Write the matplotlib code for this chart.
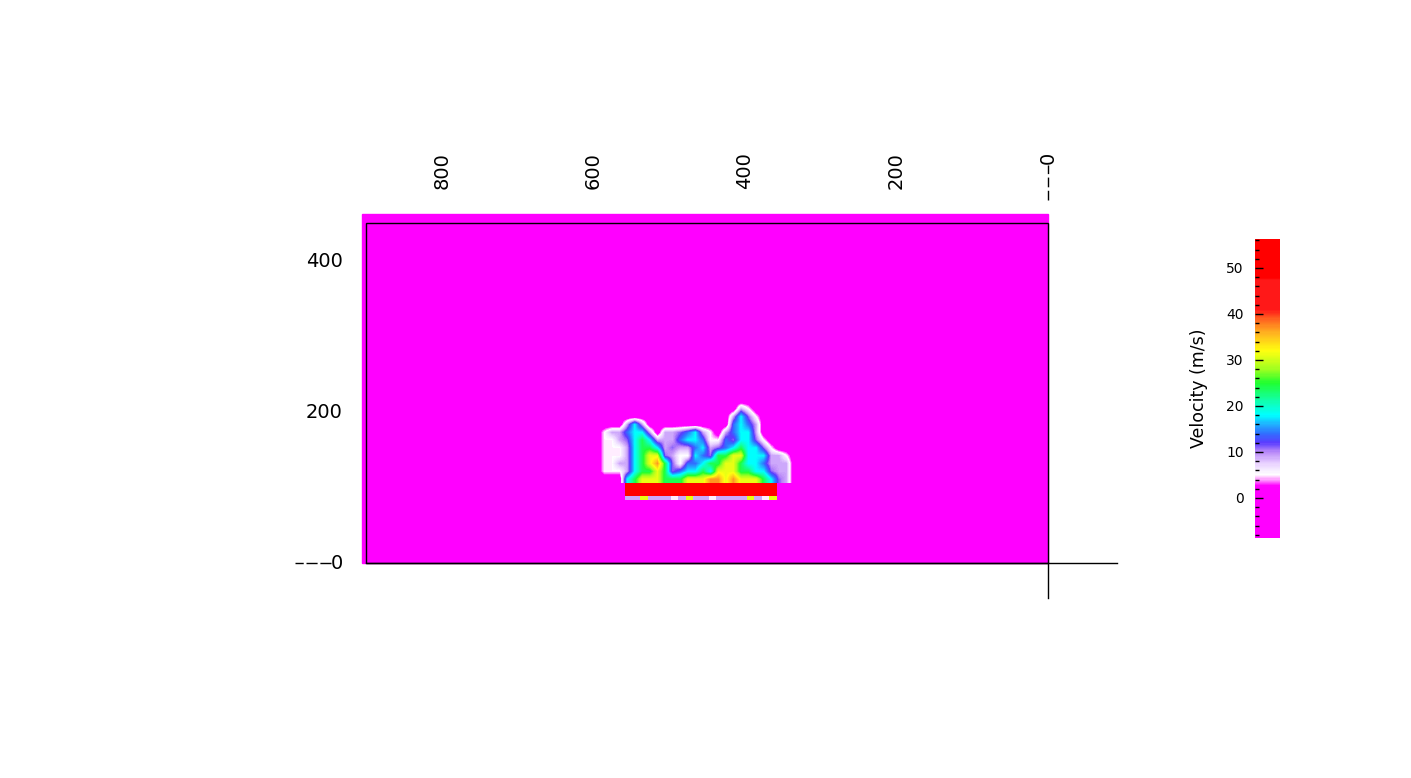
import numpy as np
import matplotlib
matplotlib.use('Agg')
import matplotlib.pyplot as plt
from matplotlib.colors import LinearSegmentedColormap, Normalize
from matplotlib.patches import Rectangle
from matplotlib.ticker import MultipleLocator

# ---- data ----
x_ticks = [0, 200, 400, 600, 800]
y_ticks = [0, 200, 400]
domain_x = 900
domain_y = 452
cbar_ticks = [0, 10, 20, 30, 40, 50]
vmin, vmax = -8.7, 56.3

# velocity (m/s) for each code digit
levels = [0, 5, 9, 11, 14, 18, 24, 31, 37, 48]

# plume, coarse grid, rows top -> bottom, columns x=600 -> x=330
plume_x = (600, 330)
plume_y = (106, 220)
plume_rows = [
    "000000000000000000000000000",
    "000000000000000000021000000",
    "000000000000000000253100000",
    "000025200000000000454200000",
    "012245520223452102455200000",
    "011235652224554114355310000",
    "011125665232245234565531000",
    "011125677321154366775552210",
    "011225678631445667765542220",
    "011125667634556577766553220",
    "000056777666777887877765320",
]

# burner slab and the thin strip under it
burner_x = (558, 358)
burner_y = (89, 106)
burner_code = "9"
strip_y = (84, 89)
strip_codes = "22722212722122227217"

# colour table of the velocity bar
cmap_stops = [(-8.7, '#ff00ff'), (2.5, '#ff00ff'), (3.8, '#ff90ff'), (5, '#ffffff'),
              (7.5, '#e8d0ff'), (10, '#b888f8'), (12, '#5a3cff'), (14, '#3070ff'),
              (16, '#20b0ff'), (18, '#00ffff'), (21, '#10ffb0'), (25, '#20ff30'),
              (28, '#a0ff20'), (32, '#ffff10'), (36, '#ffb020'), (39, '#ff6020'),
              (41, '#ff1818'), (47.5, '#ff1818'), (48, '#ff0000'), (56.3, '#ff0000')]

cmap = LinearSegmentedColormap.from_list(
    'vel', [((v - vmin) / (vmax - vmin), c) for v, c in cmap_stops])
norm = Normalize(vmin, vmax)

def decode(rows):
    return np.array([[levels[int(ch)] for ch in r] for r in rows], dtype=float)

fig = plt.figure(figsize=(14.11, 7.78), dpi=100)
ax = fig.add_axes([290 / 1411, 173 / 778, 830 / 1411, 465 / 778])
ax.set_xlim(1000.66, -95.05)
ax.set_ylim(-55.8, 562.1)
ax.axis('off')

magenta = cmap(norm(0))
ax.add_patch(Rectangle((0, 0), domain_x + 5.6, domain_y + 11.8, color=magenta, zorder=1))

plume = decode(plume_rows)
im = ax.imshow(plume, cmap=cmap, norm=norm, interpolation='bilinear',
               interpolation_stage='data', aspect='auto', origin='upper',
               extent=[plume_x[0], plume_x[1], plume_y[0], plume_y[1]], zorder=2)

burner = decode([burner_code * len(strip_codes)])
ax.imshow(burner, cmap=cmap, norm=norm, interpolation='nearest', aspect='auto',
          extent=[burner_x[0], burner_x[1], burner_y[0], burner_y[1]], zorder=3)
strip = decode([strip_codes])
ax.imshow(strip, cmap=cmap, norm=norm, interpolation='nearest', aspect='auto',
          extent=[burner_x[0], burner_x[1], strip_y[0], strip_y[1]], zorder=3)

ax.add_patch(Rectangle((0, 0), domain_x, domain_y, fill=False, ec='black', lw=1, zorder=4))
ax.plot([domain_x, -91], [0, 0], color='black', lw=1, zorder=4)
ax.plot([0, 0], [0, -46], color='black', lw=1, zorder=4)

# odd dashed stubs next to the zero labels
ax.plot([0, 0], [482, 529], color='black', lw=1, ls=(0, (7, 2.5)), zorder=4)
ax.plot([946, 994], [0, 0], color='black', lw=1, ls=(0, (8, 2)), zorder=4)

for t in x_ticks:
    ax.text(t, 546, str(t), rotation=90, ha='center', va='top', fontsize=14)
for t in y_ticks:
    ax.text(930.7, t, str(t), ha='right', va='center', fontsize=14)

cax = fig.add_axes([1255 / 1411, 240 / 778, 25 / 1411, 299 / 778])
cb = fig.colorbar(im, cax=cax)
cb.outline.set_visible(False)
cb.set_ticks(cbar_ticks)
cax.yaxis.set_ticks_position('left')
cax.yaxis.set_label_position('left')
cax.yaxis.set_minor_locator(MultipleLocator(2))
cax.tick_params(which='major', direction='in', length=6, width=1, pad=8, labelsize=10)
cax.tick_params(which='minor', direction='in', length=3, width=1)
cb.set_label('Velocity (m/s)', fontsize=12.5, labelpad=13)

fig.savefig('out.png', dpi=100)
